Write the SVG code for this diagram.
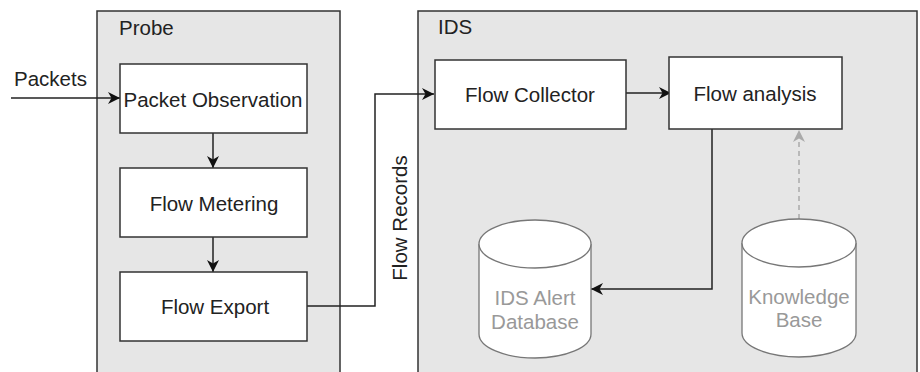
<svg xmlns="http://www.w3.org/2000/svg" width="920" height="372" viewBox="0 0 920 372">
<defs>
<style>
.container{fill:#e6e6e6;stroke:#333;stroke-width:1.5}
.box{fill:#fff;stroke:#333;stroke-width:1.5}
.cyl{fill:#fff;stroke:#777;stroke-width:1.3}
.t{font-family:"Liberation Sans",Arial,sans-serif;font-size:20.5px;fill:#222}
.tg{font-family:"Liberation Sans",Arial,sans-serif;font-size:20.5px;fill:#999}
.c{text-anchor:middle}
.edge{fill:none;stroke:#222;stroke-width:1.5}
.dash{fill:none;stroke:#aaa;stroke-width:1.5;stroke-dasharray:5 4}
</style>
<marker id="arr" markerWidth="14" markerHeight="12" refX="12" refY="6" orient="auto" markerUnits="userSpaceOnUse">
<path d="M0,0 L12,6 L0,12 L3.5,6 z" fill="#111"/>
</marker>
<marker id="arrg" markerWidth="14" markerHeight="12" refX="12" refY="6" orient="auto" markerUnits="userSpaceOnUse">
<path d="M0,0 L12,6 L0,12 L3.5,6 z" fill="#aaa"/>
</marker>
</defs>
<g id="probe">
<rect class="container" x="97" y="11" width="243" height="380"/>
<text class="t" x="119" y="35">Probe</text>
</g>
<g id="ids">
<rect class="container" x="418" y="11" width="499" height="380"/>
<text class="t" x="438" y="34">IDS</text>
</g>
<g id="connectors">
<line class="edge" x1="11" y1="98" x2="120" y2="98" marker-end="url(#arr)"/>
<text class="t" x="14" y="86">Packets</text>
<line class="edge" x1="213" y1="133" x2="213" y2="168" marker-end="url(#arr)"/>
<line class="edge" x1="213" y1="237" x2="213" y2="272" marker-end="url(#arr)"/>
<path class="edge" d="M307,306 H375 V94 H434" marker-end="url(#arr)"/>
<text class="t c" transform="translate(407,218) rotate(-90)">Flow Records</text>
<path class="edge" d="M626,93 H671" marker-end="url(#arr)"/>
<path class="edge" d="M712,129 V289 H591" marker-end="url(#arr)"/>
<path class="dash" d="M799,219 V130" marker-end="url(#arrg)"/>
</g>
<g id="packet-observation">
<rect class="box" x="120" y="64" width="187" height="69"/>
<text class="t c" x="213" y="107">Packet Observation</text>
</g>
<g id="flow-metering">
<rect class="box" x="120" y="168" width="187" height="69"/>
<text class="t c" x="214" y="211">Flow Metering</text>
</g>
<g id="flow-export">
<rect class="box" x="120" y="272" width="187" height="69"/>
<text class="t c" x="215" y="314">Flow Export</text>
</g>
<g id="flow-collector">
<rect class="box" x="435" y="60" width="191" height="69"/>
<text class="t c" x="530" y="102">Flow Collector</text>
</g>
<g id="flow-analysis">
<rect class="box" x="669" y="57" width="173" height="72"/>
<text class="t c" x="755" y="101">Flow analysis</text>
</g>
<g id="ids-alert-db">
<path class="cyl" d="M479,244 A56,24 0 0 1 591,244 V334 A56,24 0 0 1 479,334 Z"/>
<path class="cyl" d="M479,244 A56,24 0 0 0 591,244" fill="none"/>
<text class="tg c" x="535" y="305">IDS Alert</text>
<text class="tg c" x="535" y="329">Database</text>
</g>
<g id="knowledge-base">
<path class="cyl" d="M742,243 A57,24 0 0 1 856,243 V333 A57,24 0 0 1 742,333 Z"/>
<path class="cyl" d="M742,243 A57,24 0 0 0 856,243" fill="none"/>
<text class="tg c" x="799" y="304">Knowledge</text>
<text class="tg c" x="799" y="327">Base</text>
</g>
</svg>
